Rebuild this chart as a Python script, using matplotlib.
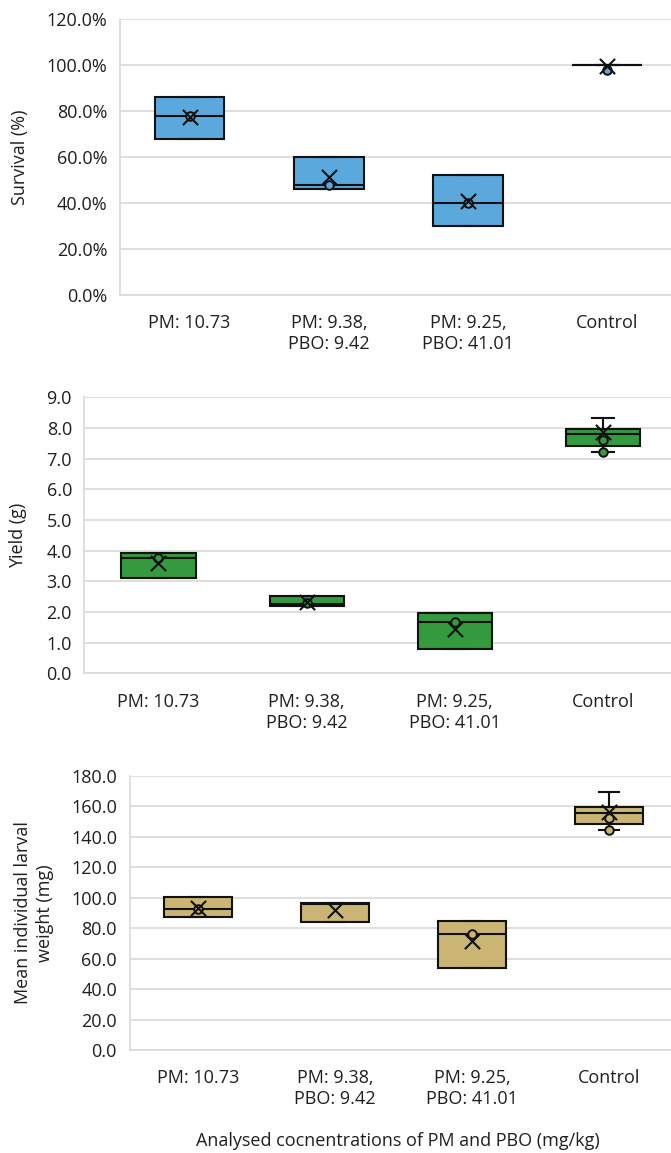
import matplotlib
matplotlib.use("Agg")
import matplotlib.pyplot as plt
from matplotlib.ticker import FuncFormatter, MultipleLocator

plt.rcParams["font.family"] = ["Open Sans", "DejaVu Sans"]

categories = ["PM: 10.73", "PM: 9.38,\nPBO: 9.42", "PM: 9.25,\nPBO: 41.01", "Control"]

# Survival (%)
surv_q1 = [68.0, 46.0, 30.0, 100.0]
surv_med = [78.0, 48.0, 40.0, 100.0]
surv_q3 = [86.0, 60.0, 52.0, 100.0]
surv_lo = [68.0, 46.0, 30.0, 100.0]
surv_hi = [86.0, 60.0, 52.0, 100.0]
surv_mean = [77.3, 51.3, 40.7, 99.7]
surv_points = [[78.0], [48.0], [40.0], [97.8]]

# Yield (g)
yield_q1 = [3.12, 2.18, 0.78, 7.42]
yield_med = [3.77, 2.27, 1.68, 7.79]
yield_q3 = [3.91, 2.51, 1.96, 7.97]
yield_lo = [3.12, 2.18, 0.78, 7.23]
yield_hi = [3.91, 2.51, 1.96, 8.33]
yield_mean = [3.60, 2.33, 1.45, 7.87]
yield_points = [[3.77], [2.29], [1.68], [7.61, 7.23]]

# Mean individual larval weight (mg)
weight_q1 = [87.4, 83.9, 54.1, 148.3]
weight_med = [92.4, 96.2, 76.0, 155.5]
weight_q3 = [100.3, 96.4, 84.8, 159.5]
weight_lo = [87.4, 83.9, 54.1, 144.6]
weight_hi = [100.3, 96.4, 84.8, 169.7]
weight_mean = [93.5, 92.0, 71.3, 156.6]
weight_points = [[92.4], [], [76.0], [152.2, 144.6]]

W, H = 671, 1153
fig = plt.figure(figsize=(W / 100, H / 100), dpi=100)
fig.patch.set_facecolor("white")

GRID = "#D9D9D9"
TXT = "#1F1F1F"
FS = 13


def px_axes(left, right, top, bottom):
    return fig.add_axes([left / W, 1 - bottom / H, (right - left) / W, (bottom - top) / H])


def panel(ax, q1, med, q3, lo, hi, mean, points, color, ymax, ystep, fmt, ylabel, label_x_px, left_px, width_px):
    stats = []
    for i in range(len(categories)):
        stats.append(dict(q1=q1[i], med=med[i], q3=q3[i], whislo=lo[i], whishi=hi[i],
                          mean=mean[i], fliers=[], label=categories[i]))
    pos = list(range(1, len(categories) + 1))
    lw = 1.5
    ax.bxp(stats, positions=pos, widths=0.5, capwidths=0.15, patch_artist=True,
           showmeans=False, showfliers=False,
           boxprops=dict(facecolor=color, edgecolor="#111111", linewidth=lw),
           medianprops=dict(color="#111111", linewidth=lw),
           whiskerprops=dict(color="#111111", linewidth=lw),
           capprops=dict(color="#111111", linewidth=lw), zorder=3)
    for i, pts in enumerate(points):
        if pts:
            ax.scatter([pos[i]] * len(pts), pts, s=38, facecolor=color, edgecolor="#111111",
                       linewidth=1.4, zorder=5, clip_on=False)
    ax.scatter(pos, mean, marker="x", s=120, color="#111111", linewidth=1.5, zorder=6, clip_on=False)

    ax.set_xlim(0.5, len(categories) + 0.5)
    ax.set_ylim(0, ymax)
    ax.yaxis.set_major_locator(MultipleLocator(ystep))
    ax.yaxis.set_major_formatter(FuncFormatter(fmt))
    ax.grid(axis="y", color=GRID, linewidth=1.2, zorder=0)
    ax.set_axisbelow(True)
    for s in ["top", "right"]:
        ax.spines[s].set_visible(False)
    for s in ["left", "bottom"]:
        ax.spines[s].set_color(GRID)
        ax.spines[s].set_linewidth(1.2)
    ax.tick_params(axis="both", length=0, labelsize=FS, colors=TXT)
    ax.tick_params(axis="y", pad=9)
    ax.tick_params(axis="x", pad=14)
    ax.set_xticks(pos)
    ax.set_xticklabels(categories, linespacing=1.2, ma="center")
    ax.set_ylabel(ylabel, fontsize=FS, color=TXT, va="center", ha="center",
                  linespacing=1.25, ma="center")
    ax.yaxis.set_label_coords((label_x_px - left_px) / width_px, 0.5)


ax1 = px_axes(120, 676.8, 19, 295)
panel(ax1, surv_q1, surv_med, surv_q3, surv_lo, surv_hi, surv_mean, surv_points,
      "#5BA8DD", 120, 20, lambda v, p: f"{v:.1f}%", "Survival (%)", 20, 120, 556.8)

ax2 = px_axes(84.4, 677, 397.3, 673.3)
panel(ax2, yield_q1, yield_med, yield_q3, yield_lo, yield_hi, yield_mean, yield_points,
      "#339A3D", 9, 1, lambda v, p: f"{v:.1f}", "Yield (g)", 18, 84.4, 592.6)

ax3 = px_axes(129.5, 677.5, 776, 1050)
panel(ax3, weight_q1, weight_med, weight_q3, weight_lo, weight_hi, weight_mean, weight_points,
      "#CBB574", 180, 20, lambda v, p: f"{v:.1f}", "Mean individual larval\nweight (mg)", 34, 129.5, 548)

fig.text(398 / W, 1 - 1141 / H, "Analysed cocnentrations of PM and PBO (mg/kg)",
         ha="center", va="center", fontsize=FS, color=TXT)

fig.savefig("out.png", dpi=100)
